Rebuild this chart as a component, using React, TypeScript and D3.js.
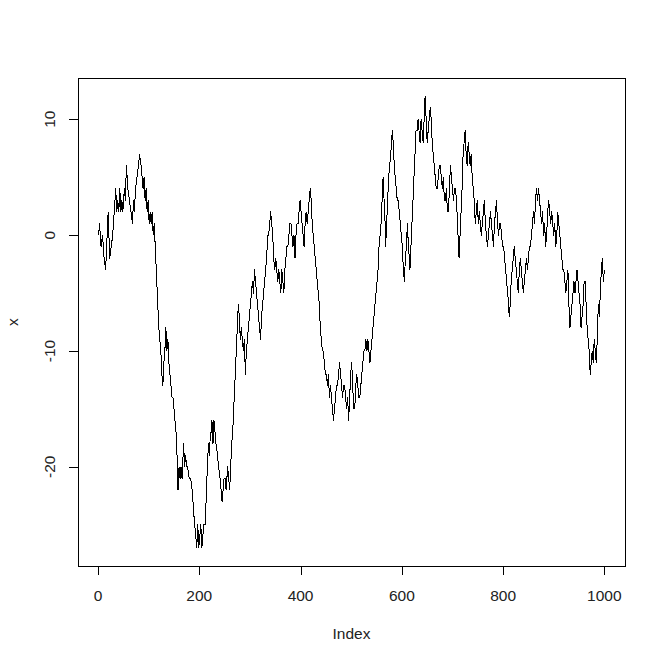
import React from "react";
import * as d3 from "d3";

const indexPts = [
1,3,6,9,12,15,18,20,23,26,29,32,35,37,39,41,43,45,47,49,52,54,56,59,62,65,68,70,72,74,77,80,82,85,87,89,91,93,95,97,99,101,103,105,107,109,111,113,115,117,120,122,124,126,128,130,132,134,136,138,140,142,144,146,148,150,152,154,156,158,160,162,164,166,169,171,173,175,177,180,183,186,189,191,193,195,197,199,201,203,205,207,209,212,214,216,218,220,222,224,225,227,229,231,233,236,238,241,243,245,247,249,251,253,256,258,260,262,264,266,268,270,272,274,276,277,279,281,283,285,287,289,291,293,295,297,299,301,303,305,307,309,311,313,315,317,319,321,323,325,327,329,331,333,335,337,339,341,343,345,347,349,351,353,355,357,359,361,363,365,367,369,371,373,375,377,379,381,383,385,387,389,391,393,395,397,399,401,403,405,407,409,411,413,415,417,419,421,423,425,427,429,431,433,435,437,439,441,443,445,447,449,451,453,455,457,459,461,463,465,467,469,471,473,475,477,479,481,483,485,487,489,491,493,495,497,499,501,503,505,507,509,511,513,515,517,519,521,523,525,527,529,531,533,535,537,539,541,543,545,547,549,551,553,555,557,559,561,563,565,567,568,570,572,574,576,578,580,581,583,585,587,589,591,593,595,597,599,601,603,605,607,609,611,613,615,616,618,620,622,624,626,628,630,632,634,636,638,640,642,644,646,648,650,652,654,656,658,660,662,664,666,668,670,672,674,676,678,680,682,684,686,688,690,692,694,696,698,700,702,704,706,708,710,712,713,715,717,719,721,723,725,727,729,731,733,735,737,739,741,743,745,747,749,751,753,755,757,759,761,763,765,767,769,771,773,775,777,779,781,783,785,787,789,791,793,795,797,799,801,803,805,807,809,811,812,814,816,818,820,822,824,826,828,830,832,834,836,838,840,842,844,846,848,850,852,854,856,858,860,862,864,866,868,870,872,874,876,878,880,882,884,886,888,890,892,894,896,898,900,902,904,906,908,910,912,914,916,918,920,922,924,926,928,930,932,934,936,938,940,942,944,946,948,950,952,954,956,958,960,962,964,966,968,970,972,974,976,978,980,982,984,986,988,990,992,994,996,998,1000
];

const xValues = [
0,1,-1,0,-2,-3,0,2,-2,-1,0,2,4,2,3,2,4,2,3,2,4,3,6,4,3,2,1,3,2,4,5,6,7,6,5,4,5,3,4,2,3,1,2,1,2,0,1,-1,-3,-5,-8,-9,-10,-12,-13,-11,-10,-8,-10,-9,-11,-12,-13,-14,-14,-15,-16,-17,-19,-22,-20,-21,-20,-21,-18,-20,-19,-20,-20,-21,-21,-22,-24,-25,-26,-27,-25,-27,-26,-25,-27,-26,-25,-25,-22,-20,-18,-19,-17,-17,-16,-18,-16,-17,-18,-19,-20,-21,-22,-23,-22,-21,-21,-22,-20,-21,-22,-20,-18,-17,-15,-13,-11,-9,-7,-6,-7,-9,-8,-9,-10,-9,-12,-10,-9,-8,-7,-6,-5,-4,-5,-3,-4,-5,-6,-7,-8,-9,-7,-6,-5,-4,-3,-2,0,0,1,2,1,0,-2,-3,-2,-3,-4,-3,-4,-5,-3,-4,-5,-3,-2,-1,-1,0,1,1,0,-1,0,-2,0,1,1,2,3,2,1,0,-1,1,2,1,2,3,4,3,1,0,-1,-2,-3,-4,-5,-6,-8,-9,-10,-10,-11,-12,-12,-13,-12,-14,-13,-14,-15,-16,-15,-14,-13,-13,-12,-11,-12,-13,-14,-13,-13,-14,-15,-14,-16,-14,-12,-11,-13,-15,-15,-13,-12,-13,-14,-14,-13,-12,-11,-10,-10,-9,-10,-9,-10,-11,-10,-9,-8,-7,-6,-5,-4,-3,-1,0,1,3,5,3,1,-1,1,3,5,6,7,8,9,8,6,5,4,3,3,2,1,0,-1,-3,-4,-2,-1,1,-1,-2,-3,-1,1,3,5,7,9,9,10,9,8,10,9,8,10,12,10,8,9,10,11,10,8,7,6,5,4,4,5,6,6,5,4,5,3,3,4,2,2,4,6,5,4,3,4,4,3,1,-1,-2,0,2,4,7,8,9,7,6,8,7,6,7,5,4,3,1,2,3,1,2,1,0,1,2,3,1,0,-1,0,1,2,1,0,-1,1,2,3,1,0,1,1,0,-1,-1,-2,-3,-4,-5,-6,-7,-6,-4,-3,-2,-1,-2,-3,-4,-5,-3,-2,-3,-4,-5,-4,-3,-2,-3,-2,-1,-1,0,1,2,1,3,4,3,4,3,2,1,2,0,1,-1,0,2,3,2,1,2,1,0,1,-1,0,2,1,0,-1,-2,-3,-3,-4,-5,-4,-3,-6,-8,-7,-6,-5,-4,-5,-4,-3,-4,-5,-6,-8,-7,-6,-4,-4,-6,-8,-9,-10,-12,-11,-10,-11,-9,-10,-11,-9,-6,-7,-5,-3,-2,-4,-3
];

const xTicks = [0, 200, 400, 600, 800, 1000];
const yTicks = [-20, -10, 0, 10];
const xLabel = "Index";
const yLabel = "x";

export default function App() {
  const W = 665, H = 664;
  const left = 78.3, right = 624.6, top = 78, bottom = 566;
  const n = Math.min(indexPts.length, xValues.length);
  const pts = d3.range(n).map((i) => [indexPts[i], xValues[i]] as [number, number]);
  const xmin = d3.min(indexPts)!, xmax = d3.max(indexPts)!;
  const ymin = d3.min(xValues)!, ymax = d3.max(xValues)!;
  const dx = (xmax - xmin) * 0.04, dy = (ymax - ymin) * 0.04;
  const xs = d3.scaleLinear().domain([xmin - dx, xmax + dx]).range([left, right]);
  const ys = d3.scaleLinear().domain([ymin - dy, ymax + dy]).range([bottom, top]);
  const line = d3.line<[number, number]>().x((d) => xs(d[0])).y((d) => ys(d[1]));
  const font = "'Liberation Sans', Arial, sans-serif";
  const fs = 15.5;
  return (
    <svg width={W} height={H} style={{ position: "absolute", left: 0, top: 0, background: "#fff" }} fontFamily={font}>
      <rect x={0} y={0} width={W} height={H} fill="#fff" />
      <path d={line(pts) || ""} fill="none" stroke="#000" strokeWidth={1} strokeLinejoin="round" shapeRendering="crispEdges" />
      <rect x={Math.round(left) + 0.5} y={top + 0.5} width={Math.round(right) - Math.round(left)} height={bottom - top} fill="none" stroke="#000" strokeWidth={1} />
      {/* x axis */}
      <line x1={Math.round(xs(xTicks[0])) + 0.5} x2={Math.round(xs(xTicks[xTicks.length - 1])) + 0.5} y1={bottom + 0.5} y2={bottom + 0.5} stroke="#000" />
      {xTicks.map((t) => (
        <g key={t}>
          <line x1={Math.round(xs(t)) + 0.5} x2={Math.round(xs(t)) + 0.5} y1={bottom} y2={bottom + 9} stroke="#000" />
          <text x={xs(t)} y={600.5} textAnchor="middle" fontSize={fs} fill="#222">{t}</text>
        </g>
      ))}
      {/* y axis */}
      <line x1={Math.round(left) + 0.5} x2={Math.round(left) + 0.5} y1={Math.round(ys(yTicks[0])) + 0.5} y2={Math.round(ys(yTicks[yTicks.length - 1])) + 0.5} stroke="#000" />
      {yTicks.map((t) => (
        <g key={t}>
          <line x1={Math.round(left) - 9} x2={Math.round(left)} y1={Math.round(ys(t)) + 0.5} y2={Math.round(ys(t)) + 0.5} stroke="#000" />
          <text transform={`translate(55,${ys(t)}) rotate(-90)`} textAnchor="middle" fontSize={fs} fill="#222">{t}</text>
        </g>
      ))}
      <text x={(left + right) / 2} y={639} textAnchor="middle" fontSize={fs} fill="#222">{xLabel}</text>
      <text transform={`translate(18,${(top + bottom) / 2}) rotate(-90)`} textAnchor="middle" fontSize={fs} fill="#222">{yLabel}</text>
    </svg>
  );
}
